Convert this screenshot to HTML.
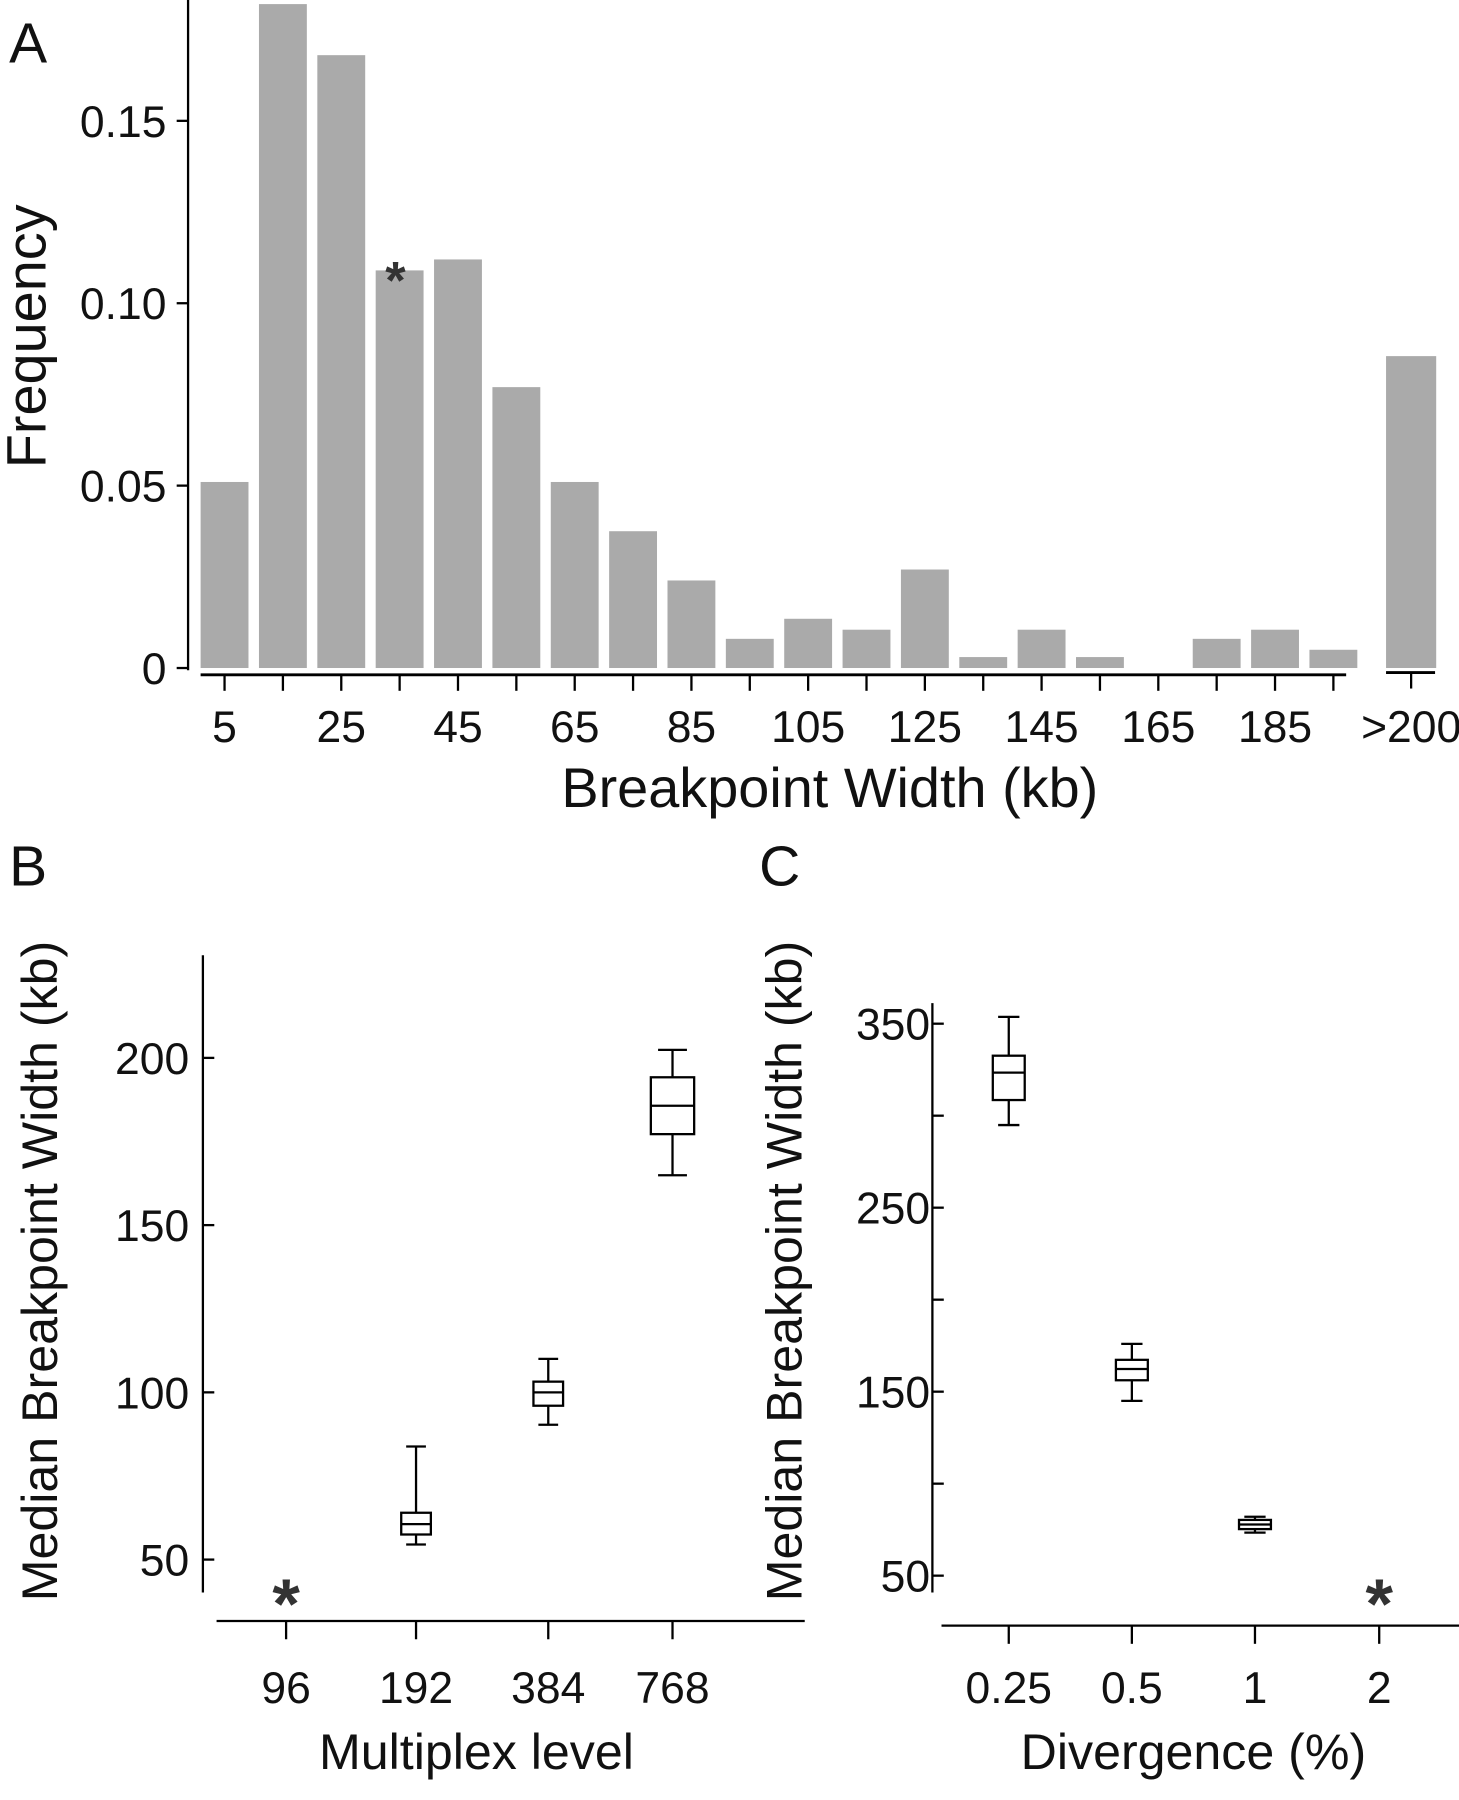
<!DOCTYPE html>
<html><head><meta charset="utf-8">
<style>
html,body{margin:0;padding:0;background:#fff;}
svg{display:block;}
text{font-family:"Liberation Sans",sans-serif;fill:#111;}
.t{font-size:39px;}
.title{font-family:"Liberation Sans",sans-serif;font-size:49px;}
.title2{font-family:"Liberation Sans",sans-serif;font-size:44px;}
.pl{font-family:"Liberation Sans",sans-serif;font-size:50px;}
</style></head>
<body>
<svg id="fig" width="1459" height="1800" viewBox="0 0 1280 1579" preserveAspectRatio="none" xmlns="http://www.w3.org/2000/svg">
<g id="pa"></g>
<g id="pb"></g>
<g id="pc"></g>
</svg>
<script>
// Panel A data
const binCenters = [5,15,25,35,45,55,65,75,85,95,105,115,125,135,145,155,165,175,185,195];
const binFreq = [0.051,0.182,0.168,0.109,0.112,0.077,0.051,0.0375,0.024,0.008,0.0135,0.0105,0.027,0.003,0.0105,0.003,0,0.008,0.0105,0.005];
const overFreq = [0.0855];
const aYTicks = [0,0.05,0.10,0.15];
const aYTickLabels = ["0","0.05","0.10","0.15"];
const aXTickLabels = ["5","25","45","65","85","105","125","145","165","185"];
// Panel B data
const bCats = ["96","192","384","768"];
const bWhiskerHi = [null,83.8,110,202.4];
const bQ3 = [null,64,103.2,194.2];
const bMedian = [null,60.6,100,185.7];
const bQ1 = [null,57.5,96,177.2];
const bWhiskerLo = [null,54.5,90.3,164.9];
const bYTicks = [50,100,150,200];
// Panel C data
const cCats = ["0.25","0.5","1","2"];
const cWhiskerHi = [353.7,176,82,null];
const cQ3 = [332.6,167.3,80.3,null];
const cMedian = [323.4,162.3,77.8,null];
const cQ1 = [308.5,156.2,75.3,null];
const cWhiskerLo = [294.9,145,73.4,null];
const cYTicks = [50,100,150,200,250,300,350];
const cYTickLabels = ["50","","150","","250","","350"];

const NS="http://www.w3.org/2000/svg";
function mk(parent,tag,attrs,txt){const e=document.createElementNS(NS,tag);for(const k in attrs)e.setAttribute(k,attrs[k]);if(txt!==undefined)e.textContent=txt;parent.appendChild(e);return e;}

// ---------- Panel A ----------
const pa=document.getElementById('pa');
const ay=v=>586-v*3200;
const ax=kb=>197+(kb-5)*5.12;
mk(pa,'line',{x1:165,y1:0,x2:165,y2:588,stroke:'#000','stroke-width':2});
aYTicks.forEach((v,i)=>{
  const l=mk(pa,'line',{x1:155,y1:ay(v),x2:165,y2:ay(v),stroke:'#000','stroke-width':2});
  
  
  const t=mk(pa,'text',{x:146,y:ay(v)+14,'text-anchor':'end',class:'t'},aYTickLabels[i]);
  
  
});
binCenters.forEach((c,i)=>{
  const r=mk(pa,'rect',{x:ax(c)-21,y:ay(binFreq[i]),width:42,height:ay(0)-ay(binFreq[i]),fill:'#aaaaaa'});
  
  
  mk(pa,'line',{x1:ax(c),y1:592,x2:ax(c),y2:606,stroke:'#000','stroke-width':2});
});
const ox=1238;
const ro=mk(pa,'rect',{x:ox-22,y:ay(overFreq[0]),width:44,height:ay(0)-ay(overFreq[0]),fill:'#aaaaaa'});


mk(pa,'line',{x1:176,y1:592,x2:1181,y2:592,stroke:'#000','stroke-width':2.5});
mk(pa,'line',{x1:1216,y1:590,x2:1259,y2:590,stroke:'#000','stroke-width':2.5});
mk(pa,'line',{x1:ox,y1:590,x2:ox,y2:604,stroke:'#000','stroke-width':2});
aXTickLabels.forEach(s=>{
  const t=mk(pa,'text',{x:ax(+s),y:651,'text-anchor':'middle',class:'t'},s);
  
  
});
mk(pa,'text',{x:ox,y:651,'text-anchor':'middle',class:'t'},'>200');
const sa=mk(pa,'text',{x:347,y:262,'text-anchor':'middle',style:'font-size:46px;fill:#333;font-weight:bold'},'*');

mk(pa,'text',{x:728,y:708,'text-anchor':'middle',class:'title'},'Breakpoint Width (kb)');
mk(pa,'text',{x:0,y:0,'text-anchor':'middle',class:'title',transform:'translate(40,295) rotate(-90)'},'Frequency');
mk(pa,'text',{x:8,y:55,class:'pl'},'A');

// ---------- box helper ----------
function boxes(g,cats,hi,q3,med,q1,lo,xs,yf,widths){
  cats.forEach((c,i)=>{
    if(hi[i]===null)return;
    const x=xs[i],w=widths[i];
    const grp=mk(g,'g',{});
    
    
    const st={stroke:'#000','stroke-width':2,fill:'none'};
    mk(grp,'line',Object.assign({x1:x,y1:yf(hi[i]),x2:x,y2:yf(q3[i])},st));
    mk(grp,'line',Object.assign({x1:x,y1:yf(q1[i]),x2:x,y2:yf(lo[i])},st));
    mk(grp,'line',Object.assign({x1:x-w/3,y1:yf(hi[i]),x2:x+w/3,y2:yf(hi[i])},st));
    mk(grp,'line',Object.assign({x1:x-w/3,y1:yf(lo[i]),x2:x+w/3,y2:yf(lo[i])},st));
    mk(grp,'rect',Object.assign({x:x-w/2,y:yf(q3[i]),width:w,height:yf(q1[i])-yf(q3[i])},st));
    mk(grp,'line',Object.assign({x1:x-w/2,y1:yf(med[i]),x2:x+w/2,y2:yf(med[i])},st));
  });
}

// ---------- Panel B ----------
const pb=document.getElementById('pb');
const by=v=>928+(200-v)*2.934;
const bxs=[251,365,481,590];
mk(pb,'line',{x1:178,y1:838,x2:178,y2:1397,stroke:'#000','stroke-width':2});
bYTicks.forEach(v=>{
  mk(pb,'line',{x1:178,y1:by(v),x2:188,y2:by(v),stroke:'#000','stroke-width':2});
  const t=mk(pb,'text',{x:166,y:by(v)+14,'text-anchor':'end',class:'t'},String(v));
  
  
});
mk(pb,'line',{x1:190,y1:1422,x2:706,y2:1422,stroke:'#000','stroke-width':2});
bCats.forEach((c,i)=>{
  mk(pb,'line',{x1:bxs[i],y1:1422,x2:bxs[i],y2:1438,stroke:'#000','stroke-width':2});
  const t=mk(pb,'text',{x:bxs[i],y:1494,'text-anchor':'middle',class:'t'},c);
  
  
});
boxes(pb,bCats,bWhiskerHi,bQ3,bMedian,bQ1,bWhiskerLo,bxs,by,[26,26,26,38]);
const sb=mk(pb,'text',{x:251,y:1428,'text-anchor':'middle',style:'font-size:62px;fill:#333;font-weight:bold'},'*');

mk(pb,'text',{x:418,y:1552,'text-anchor':'middle',class:'title2'},'Multiplex level');
mk(pb,'text',{x:0,y:0,'text-anchor':'middle',class:'title2',transform:'translate(50,1115) rotate(-90)'},'Median Breakpoint Width (kb)');
mk(pb,'text',{x:8,y:777,class:'pl'},'B');

// ---------- Panel C ----------
const pc=document.getElementById('pc');
const cy=v=>898+(350-v)*1.614;
const cxs=[885,993,1101,1210];
mk(pc,'line',{x1:818,y1:880,x2:818,y2:1397,stroke:'#000','stroke-width':2});
cYTicks.forEach((v,i)=>{
  mk(pc,'line',{x1:818,y1:cy(v),x2:828,y2:cy(v),stroke:'#000','stroke-width':2});
  const t=mk(pc,'text',{x:816,y:cy(v)+14,'text-anchor':'end',class:'t'},cYTickLabels[i]);
  
  
});
mk(pc,'line',{x1:826,y1:1426,x2:1280,y2:1426,stroke:'#000','stroke-width':2});
cCats.forEach((c,i)=>{
  mk(pc,'line',{x1:cxs[i],y1:1426,x2:cxs[i],y2:1442,stroke:'#000','stroke-width':2});
  const t=mk(pc,'text',{x:cxs[i],y:1494,'text-anchor':'middle',class:'t'},c);
  
  
});
boxes(pc,cCats,cWhiskerHi,cQ3,cMedian,cQ1,cWhiskerLo,cxs,cy,[28,28,28,28]);
const sc=mk(pc,'text',{x:1210,y:1428,'text-anchor':'middle',style:'font-size:62px;fill:#333;font-weight:bold'},'*');

mk(pc,'text',{x:1047,y:1552,'text-anchor':'middle',class:'title2'},'Divergence (%)');
mk(pc,'text',{x:0,y:0,'text-anchor':'middle',class:'title2',transform:'translate(703,1115) rotate(-90)'},'Median Breakpoint Width (kb)');
mk(pc,'text',{x:666,y:777,class:'pl'},'C');
</script>
</body></html>
